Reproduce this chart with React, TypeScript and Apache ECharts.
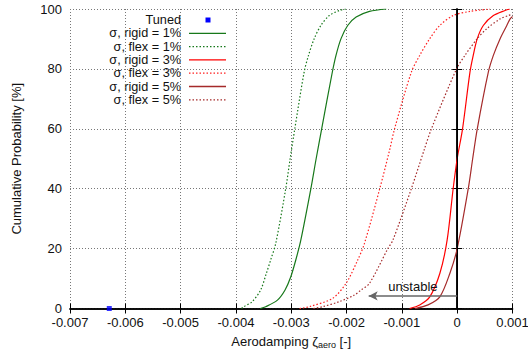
import React, { useEffect, useRef } from "react";
import * as echarts from "echarts";

// Tick values
const xMin = -0.007;
const xMax = 0.001;
const xStep = 0.001;
const yMin = 0;
const yMax = 100;
const yStep = 20;

// Tuned point [zeta, probability %]
const tuned = [[-0.00629, 0]];

// Cumulative probability curves, [zeta, probability %]
const rigid1 = [
  [-0.00356, 0], [-0.003462, 0.6], [-0.00325, 2.8], [-0.003112, 6.2], [-0.003008, 10.6],
  [-0.002918, 16.2], [-0.002827, 22.8], [-0.002645, 40], [-0.00255, 50], [-0.00245, 60],
  [-0.002264, 78.3], [-0.002191, 84.5], [-0.0021, 90.1], [-0.00198, 94.5], [-0.001827, 97.3],
  [-0.001586, 99.2], [-0.001283, 100],
];
const flex1 = [
  [-0.0039, 0], [-0.003857, 0.6], [-0.003705, 2.3], [-0.003553, 6.2], [-0.003451, 11.7],
  [-0.003372, 16.2], [-0.003281, 21.7], [-0.0031, 40], [-0.00302, 50], [-0.002936, 60],
  [-0.002767, 78.9], [-0.002688, 84.5], [-0.002585, 90.1], [-0.002464, 94.5], [-0.002312, 97.8],
  [-0.002131, 99.5], [-0.002009, 100],
];
const rigid3 = [
  [-0.00086, 0], [-0.000678, 1.2], [-0.000496, 3.9], [-0.000314, 11.7], [-0.000182, 22.8],
  [-0.000073, 40], [0.0, 50], [0.000097, 60], [0.000231, 78.9], [0.00029, 84.5],
  [0.000363, 90.1], [0.000472, 94.5], [0.000654, 97.8], [0.000866, 99.5], [0.00095, 100],
];
const flex3 = [
  [-0.00285, 0], [-0.002676, 0.6], [-0.002252, 3.4], [-0.002009, 8.4], [-0.001798, 16.2],
  [-0.001677, 21.7], [-0.0014, 40], [-0.001223, 52.8], [-0.001132, 60], [-0.000829, 78.9],
  [-0.000678, 84.5], [-0.000496, 90.1], [-0.000314, 94.5], [-0.000073, 97.8], [0.000231, 99.2],
  [0.000594, 100],
];
const rigid5 = [
  [-0.00076, 0], [-0.000527, 1.2], [-0.000314, 3.9], [-0.000133, 11.7], [0.0, 20],
  [0.0002, 40], [0.00028, 50], [0.000363, 60], [0.000563, 78.9], [0.000654, 84.5],
  [0.000776, 90.1], [0.000897, 94.5], [0.000957, 96.7], [0.001, 97.5],
];
const flex5 = [
  [-0.0026, 0], [-0.002434, 0.6], [-0.002131, 2.3], [-0.001858, 4.5], [-0.001737, 6.2],
  [-0.001586, 8.4], [-0.001253, 20], [-0.001163, 22.8], [-0.000829, 40], [-0.0006, 52.8],
  [-0.000466, 60], [-0.000011, 80], [0.00014, 84.5], [0.000363, 90.1], [0.000534, 93.4],
  [0.000776, 96.7], [0.000927, 97.8], [0.001, 98.3],
];

const tunedName = "Tuned";
const seriesNames = [
  "σ, rigid = 1%", "σ, flex = 1%", "σ, rigid = 3%", "σ, flex = 3%", "σ, rigid = 5%", "σ, flex = 5%",
];
const seriesData = [rigid1, flex1, rigid3, flex3, rigid5, flex5];
const seriesColors = ["#17781a", "#17781a", "#ff0000", "#ff2020", "#a52a2a", "#a52a2a"];
const seriesDotted = [false, true, false, true, false, true];

// Annotation
const stableBoundary = 0;
const arrowFrom = [0, 4.2];
const arrowTo = [-0.0016, 4.2];
const arrowText = "unstable";

const FONT = "Liberation Sans, Arial, Helvetica, sans-serif";
const DOT = [1.5, 2];

export default function App() {
  const ref = useRef<HTMLDivElement>(null);
  useEffect(() => {
    document.body.style.margin = "0";
    if (!ref.current) return;
    const chart = echarts.init(ref.current, undefined, { renderer: "svg" });

    const fmt = (v: number) => String(+v.toFixed(3));

    const legendGraphics: any[] = [];
    const lx = 181, ly0 = 20, ldy = 13.3, l1 = 189, l2 = 226;
    const textStyle = (t: string) => ({
      text: t, font: `12.7px ${FONT}`, fill: "#111", textAlign: "right", textVerticalAlign: "middle",
    });
    legendGraphics.push({ type: "text", x: lx, y: ly0, style: textStyle(tunedName) });
    legendGraphics.push({
      type: "rect", shape: { x: 205.5, y: ly0 - 2.5, width: 5, height: 5 },
      style: { fill: "#0000ff" },
    });
    seriesNames.forEach((n, i) => {
      const y = ly0 + ldy * (i + 1);
      legendGraphics.push({ type: "text", x: lx, y, style: textStyle(n) });
      legendGraphics.push({
        type: "line", shape: { x1: l1, y1: y, x2: l2, y2: y },
        style: { stroke: seriesColors[i], lineWidth: 1.3, lineDash: seriesDotted[i] ? DOT : null },
      });
    });

    const baseX = { type: "value", min: xMin, max: xMax, interval: xStep };
    const baseY = { type: "value", min: yMin, max: yMax, interval: yStep };

    const option: any = {
      animation: false,
      grid: { left: 70, right: 15.5, top: 9, bottom: 49.5, show: false, outerBoundsMode: "none", containLabel: false },
      textStyle: { fontFamily: FONT },
      xAxis: [
        {
          ...baseX, position: "bottom",
          name: "{a|Aerodamping ζ}{s|aero}{a| [-]}",
          nameLocation: "middle", nameGap: 23,
          nameTextStyle: {
            rich: {
              a: { fontSize: 13, fontFamily: FONT, color: "#111", lineHeight: 16 },
              s: { fontSize: 9, fontFamily: FONT, color: "#111", lineHeight: 16, padding: [7, 0, 0, 0] },
            },
          },
          axisLine: { show: true, lineStyle: { color: "#000", width: 1.5 } },
          axisTick: { show: true, inside: true, length: 5, lineStyle: { color: "#000" } },
          axisLabel: { show: true, margin: 7, fontSize: 13, color: "#111", fontFamily: FONT, formatter: fmt },
          splitLine: { show: true, lineStyle: { color: "#777", type: [1, 2], width: 1 } },
        },
        {
          ...baseX, position: "top",
          axisLine: { show: true, lineStyle: { color: "#000", width: 1.5 } },
          axisTick: { show: true, inside: true, length: 5, lineStyle: { color: "#000" } },
          axisLabel: { show: false },
          splitLine: { show: false },
        },
      ],
      yAxis: [
        {
          ...baseY, position: "left",
          name: "Cumulative Probability [%]",
          nameLocation: "middle", nameGap: 47, nameRotate: 90,
          nameTextStyle: { fontSize: 13, color: "#111", fontFamily: FONT },
          axisLine: { show: true, lineStyle: { color: "#000", width: 1.5 } },
          axisTick: { show: true, inside: true, length: 5, lineStyle: { color: "#000" } },
          axisLabel: { show: true, margin: 8, fontSize: 13, color: "#111", fontFamily: FONT },
          splitLine: { show: true, lineStyle: { color: "#777", type: [1, 2], width: 1 } },
        },
        {
          ...baseY, position: "right",
          axisLine: { show: true, lineStyle: { color: "#000", width: 1.5 } },
          axisTick: { show: true, inside: true, length: 5, lineStyle: { color: "#000" } },
          axisLabel: { show: false },
          splitLine: { show: false },
        },
      ],
      series: [
        {
          name: "boundary", type: "line", data: [], silent: true,
          markLine: {
            silent: true, symbol: ["none", "none"], animation: false,
            label: { show: false },
            lineStyle: { color: "#000", width: 1, type: "solid" },
            data: [{ xAxis: stableBoundary }],
          },
        },
        {
          name: "arrow", type: "line", data: [], silent: true,
          markLine: {
            silent: true, symbol: ["none", "arrow"], symbolSize: [7, 9], animation: false,
            lineStyle: { color: "#666", width: 1.6, type: "solid" },
            label: {
              show: true, position: "middle", formatter: arrowText, distance: 3,
              fontSize: 13, color: "#111", fontFamily: FONT,
            },
            data: [[{ coord: arrowFrom }, { coord: arrowTo }]],
          },
        },
        ...seriesNames.map((n, i) => ({
          name: n, type: "line", data: seriesData[i], showSymbol: false, symbol: "none",
          smooth: 0.3, clip: true,
          lineStyle: { color: seriesColors[i], width: 1.2, type: seriesDotted[i] ? DOT : "solid" },
        })),
        {
          name: tunedName, type: "scatter", data: tuned, symbol: "rect", symbolSize: 5,
          itemStyle: { color: "#0000ff" }, z: 5, clip: false,
        },
      ],
      graphic: legendGraphics,
    };
    chart.setOption(option);
    return () => chart.dispose();
  }, []);
  return <div ref={ref} style={{ width: 528, height: 358 }} />;
}
